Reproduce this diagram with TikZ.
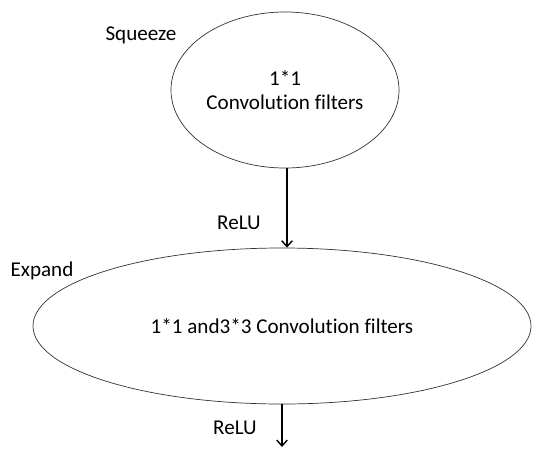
\documentclass[tikz,border=0pt]{standalone}
\usepackage{fontspec}
\setmainfont{Carlito}[Ligatures=NoCommon]
\usepackage{tikz}
\usetikzlibrary{positioning}
\usetikzlibrary{shapes.geometric}
\usetikzlibrary{arrows.meta}
\tikzstyle{F} = [ellipse,draw=black!80,line width=0.6pt,inner sep=0pt,align=center,font=\fontsize{18}{20}\selectfont]
\tikzstyle{T} = [inner sep=0pt,font=\fontsize{18}{20}\selectfont]
\tikzset{>={Straight Barb[length=5pt,width=9pt]}}

\begin{document}
\begin{tikzpicture}[x=0.03cm,y=-0.03cm]
  \useasboundingbox (0,0) rectangle (534,449);

  \node [F,minimum width=6.84cm,minimum height=4.68cm] (n1) at (285,90) {1*1\\Convolution filters};
  \node [F,minimum width=14.94cm,minimum height=4.68cm] (n2) at (282,326) {1*1 and3*3 Convolution filters};
  \coordinate (c1) at (282,447);

  \node [T] (t1) at (141,35) {Squeeze};
  \node [T] (t2) at (42,271) {Expand};
  \node [T] (t3) at (239,223) {ReLU};
  \node [T] (t4) at (235,428) {ReLU};

  \draw [->,line width=1.2pt] (n1.south -| 287,0) -- (n2.north -| 287,0);
  \draw [->,line width=1.2pt] (n2.south) -- (c1);

\end{tikzpicture}
\end{document}
